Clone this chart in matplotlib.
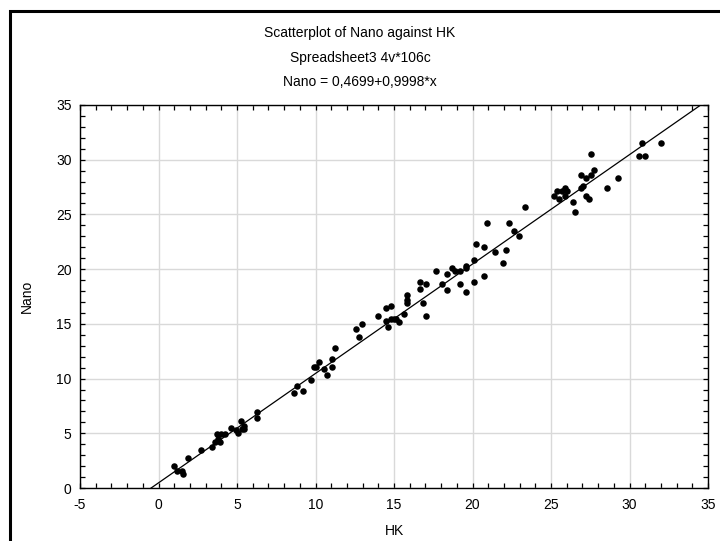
import numpy as np
import matplotlib.pyplot as plt
from matplotlib.ticker import MultipleLocator
from matplotlib.patches import Rectangle

# HK vs Nano values
hk = [1.01, 1.20, 1.50, 1.54, 1.90, 2.70, 3.39, 3.58, 3.77, 3.75, 3.92, 3.98,
      4.26, 4.60, 4.92, 5.08, 5.27, 5.32, 5.47, 5.45, 6.25, 6.25, 8.65, 8.84,
      9.18, 9.69, 9.90, 10.03, 10.22, 10.54, 10.71, 11.05, 11.05, 11.22,
      12.58, 12.77, 12.94, 13.96, 14.47, 14.47, 14.64, 14.81, 14.81, 14.98,
      15.15, 15.32, 15.66, 15.83, 15.83, 15.83, 16.68, 16.68, 16.85, 17.02,
      17.02, 17.70, 18.04, 18.38, 18.38, 18.72, 18.89, 19.22, 19.22, 19.57,
      19.57, 19.57, 20.08, 20.08, 20.24, 20.75, 20.75, 20.92, 21.45,
      21.97, 22.13, 22.30, 22.64, 22.98, 23.32, 25.19, 25.36, 25.53, 25.70,
      25.87, 25.87, 26.04, 26.38, 26.55, 26.89, 27.06, 26.89, 27.23, 27.23,
      27.40, 27.57, 27.74, 27.57, 28.59, 29.27, 30.62, 30.96, 30.80, 31.99]
nano = [2.04, 1.58, 1.58, 1.31, 2.77, 3.50, 3.75, 4.20, 4.45, 4.94, 4.23, 4.94,
        4.94, 5.45, 5.27, 5.00, 6.15, 5.42, 5.67, 5.42, 6.92, 6.43, 8.66, 9.32,
        8.89, 9.84, 11.09, 11.09, 11.55, 10.85, 10.36, 11.09, 11.82, 12.77,
        14.50, 13.77, 14.96, 15.69, 15.24, 16.43, 14.74, 16.66, 15.48, 15.48,
        15.48, 15.20, 15.93, 17.67, 17.18, 16.95, 18.16, 18.86, 16.91, 18.62,
        15.69, 19.86, 18.62, 19.56, 18.13, 20.08, 19.86, 19.86, 18.62, 20.32,
        20.08, 17.88, 20.81, 18.86, 22.28, 22.03, 19.35, 24.25, 21.54,
        20.56, 21.78, 24.22, 23.49, 23.00, 25.69, 26.66, 27.15, 26.42, 27.15,
        27.39, 26.66, 27.15, 26.17, 25.20, 27.39, 27.63, 28.61, 28.36, 26.66,
        26.42, 28.61, 29.10, 30.56, 27.39, 28.36, 30.32, 30.32, 31.54, 31.54]

intercept, slope = 0.4699, 0.9998

plt.rcParams['font.family'] = ['Liberation Sans', 'DejaVu Sans']
plt.rcParams['font.size'] = 10
plt.rcParams['axes.unicode_minus'] = False

fig = plt.figure(figsize=(7.2, 5.41), dpi=100)
ax = fig.add_axes([80 / 720, 53 / 541, 628 / 720, 383 / 541])

# outer frame (runs off the right and bottom edge)
fig.patches.append(Rectangle((10 / 720, -0.5), 2.0, 1.5 - 11 / 541,
                             transform=fig.transFigure, fill=False,
                             edgecolor='black', linewidth=2.2))

ax.scatter(hk, nano, s=22, color='black', zorder=3, linewidths=0)
xl = np.array([-5, 35])
ax.plot(xl, intercept + slope * xl, color='black', linewidth=0.9, zorder=2)

ax.set_xlim(-5, 35)
ax.set_ylim(0, 35)
ax.xaxis.set_major_locator(MultipleLocator(5))
ax.yaxis.set_major_locator(MultipleLocator(5))
ax.xaxis.set_minor_locator(MultipleLocator(1))
ax.yaxis.set_minor_locator(MultipleLocator(1))
ax.tick_params(which='both', direction='in', length=3.5, width=0.9,
               top=True, right=True, colors='black')
ax.tick_params(axis='x', pad=7)
ax.tick_params(axis='y', pad=6)
ax.grid(True, which='major', color='#d9d9d9', linewidth=1.0, zorder=0)
ax.set_axisbelow(True)
for s in ax.spines.values():
    s.set_linewidth(1.0)

ax.set_xlabel('HK', labelpad=9)
ax.set_ylabel('Nano', labelpad=16)

fig.text(0.5, 1 - 33 / 541, 'Scatterplot of Nano against HK', ha='center', va='center')
fig.text(0.5, 1 - 58 / 541, 'Spreadsheet3 4v*106c', ha='center', va='center')
fig.text(0.5, 1 - 82 / 541, 'Nano = 0,4699+0,9998*x', ha='center', va='center')

fig.savefig('out.png', dpi=100, facecolor='white')
